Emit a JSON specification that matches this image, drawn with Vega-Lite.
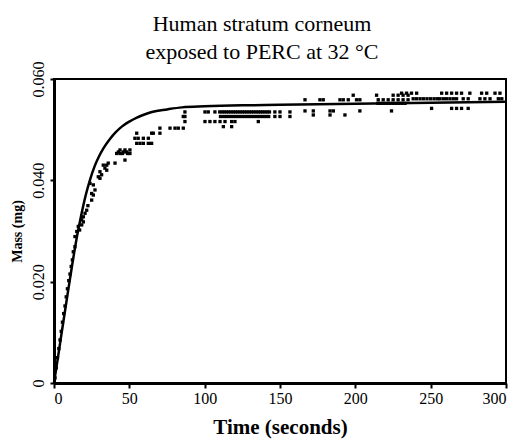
{
  "$schema": "https://vega.github.io/schema/vega-lite/v6.json",
  "width": 452,
  "height": 304,
  "autosize": "none",
  "padding": {"left": 54, "top": 79, "right": 11, "bottom": 61},
  "background": "white",
  "config": {
    "view": {"stroke": "black", "strokeWidth": 2},
    "font": "Liberation Serif",
    "axis": {"grid": false, "domainColor": "black", "tickColor": "black", "labelColor": "black", "titleColor": "black", "labelFont": "Liberation Serif", "titleFont": "Liberation Serif"}
  },
  "title": {
    "text": ["Human stratum corneum", "exposed to PERC at 32 °C"],
    "font": "Liberation Serif",
    "fontSize": 22,
    "fontWeight": "normal",
    "lineHeight": 28,
    "color": "black",
    "anchor": "middle",
    "dx": -18,
    "offset": 0,
    "dy": 3
  },
  "datasets": {
    "pts": [
      {"t": 0.7, "m": 0.0010}, {"t": 1.5, "m": 0.0030}, {"t": 2.3, "m": 0.0050}, {"t": 3.2, "m": 0.0068},
      {"t": 4.0, "m": 0.0085}, {"t": 4.8, "m": 0.0102}, {"t": 5.6, "m": 0.0120}, {"t": 6.4, "m": 0.0137},
      {"t": 7.3, "m": 0.0152}, {"t": 8.1, "m": 0.0170}, {"t": 8.9, "m": 0.0186}, {"t": 9.8, "m": 0.0202},
      {"t": 10.6, "m": 0.0215}, {"t": 11.4, "m": 0.0230}, {"t": 12.2, "m": 0.0243}, {"t": 12.8, "m": 0.0259},
      {"t": 13.9, "m": 0.0269}, {"t": 13.9, "m": 0.0289}, {"t": 15.1, "m": 0.0299}, {"t": 16.1, "m": 0.0309},
      {"t": 17.0, "m": 0.0302}, {"t": 18.4, "m": 0.0312}, {"t": 18.4, "m": 0.0322}, {"t": 19.5, "m": 0.0328},
      {"t": 19.5, "m": 0.0318}, {"t": 20.6, "m": 0.0335}, {"t": 21.7, "m": 0.0341}, {"t": 22.5, "m": 0.0350},
      {"t": 23.9, "m": 0.0394}, {"t": 25.0, "m": 0.0361}, {"t": 25.0, "m": 0.0374}, {"t": 26.1, "m": 0.0371},
      {"t": 26.1, "m": 0.0391}, {"t": 27.2, "m": 0.0381}, {"t": 29.4, "m": 0.0407}, {"t": 30.5, "m": 0.0404},
      {"t": 30.5, "m": 0.0417}, {"t": 31.6, "m": 0.0411}, {"t": 32.7, "m": 0.0430}, {"t": 33.8, "m": 0.0424},
      {"t": 35.0, "m": 0.0430}, {"t": 35.0, "m": 0.0420}, {"t": 36.0, "m": 0.0434}, {"t": 40.5, "m": 0.0434},
      {"t": 41.6, "m": 0.0453}, {"t": 42.7, "m": 0.0456}, {"t": 43.8, "m": 0.0453}, {"t": 43.8, "m": 0.0460},
      {"t": 45.5, "m": 0.0453}, {"t": 46.0, "m": 0.0456}, {"t": 47.1, "m": 0.0460}, {"t": 47.1, "m": 0.0440},
      {"t": 48.2, "m": 0.0456}, {"t": 48.8, "m": 0.0453}, {"t": 50.4, "m": 0.0453}, {"t": 50.4, "m": 0.0460},
      {"t": 53.7, "m": 0.0483}, {"t": 54.9, "m": 0.0493}, {"t": 54.9, "m": 0.0473}, {"t": 55.9, "m": 0.0483},
      {"t": 57.1, "m": 0.0473}, {"t": 59.3, "m": 0.0473}, {"t": 59.3, "m": 0.0483}, {"t": 62.6, "m": 0.0473},
      {"t": 62.6, "m": 0.0483}, {"t": 64.8, "m": 0.0473}, {"t": 64.8, "m": 0.0493}, {"t": 65.9, "m": 0.0493},
      {"t": 70.3, "m": 0.0493}, {"t": 70.3, "m": 0.0503}, {"t": 77.0, "m": 0.0503}, {"t": 80.3, "m": 0.0503},
      {"t": 82.5, "m": 0.0503}, {"t": 85.8, "m": 0.0503}, {"t": 86.9, "m": 0.0516}, {"t": 85.8, "m": 0.0526},
      {"t": 86.9, "m": 0.0526}, {"t": 86.9, "m": 0.0535},
      {"t": 100.2, "m": 0.0535}, {"t": 102.4, "m": 0.0535}, {"t": 106.8, "m": 0.0535}, {"t": 110.0, "m": 0.0535},
      {"t": 111.5, "m": 0.0535}, {"t": 113.0, "m": 0.0535}, {"t": 114.5, "m": 0.0535}, {"t": 116.0, "m": 0.0535},
      {"t": 117.5, "m": 0.0535}, {"t": 119.0, "m": 0.0535}, {"t": 120.5, "m": 0.0535}, {"t": 122.0, "m": 0.0535},
      {"t": 123.5, "m": 0.0535}, {"t": 125.0, "m": 0.0535}, {"t": 126.5, "m": 0.0535}, {"t": 128.0, "m": 0.0535},
      {"t": 129.5, "m": 0.0535}, {"t": 131.0, "m": 0.0535}, {"t": 132.5, "m": 0.0535}, {"t": 134.0, "m": 0.0535},
      {"t": 135.5, "m": 0.0535}, {"t": 137.0, "m": 0.0535}, {"t": 138.5, "m": 0.0535}, {"t": 140.0, "m": 0.0535},
      {"t": 141.5, "m": 0.0535}, {"t": 143.0, "m": 0.0535}, {"t": 146.6, "m": 0.0535}, {"t": 150.0, "m": 0.0535},
      {"t": 156.6, "m": 0.0535},
      {"t": 110.5, "m": 0.0526}, {"t": 112.5, "m": 0.0526}, {"t": 114.5, "m": 0.0526}, {"t": 116.5, "m": 0.0526},
      {"t": 118.5, "m": 0.0526}, {"t": 120.5, "m": 0.0526}, {"t": 122.5, "m": 0.0526}, {"t": 124.5, "m": 0.0526},
      {"t": 126.5, "m": 0.0526}, {"t": 128.5, "m": 0.0526}, {"t": 130.5, "m": 0.0526}, {"t": 132.5, "m": 0.0526},
      {"t": 134.5, "m": 0.0526}, {"t": 136.5, "m": 0.0526}, {"t": 138.5, "m": 0.0526}, {"t": 140.5, "m": 0.0526},
      {"t": 142.5, "m": 0.0526}, {"t": 146.6, "m": 0.0526}, {"t": 150.0, "m": 0.0526}, {"t": 156.6, "m": 0.0526},
      {"t": 100.2, "m": 0.0516}, {"t": 103.5, "m": 0.0516}, {"t": 106.8, "m": 0.0516}, {"t": 110.2, "m": 0.0516},
      {"t": 113.5, "m": 0.0516}, {"t": 117.9, "m": 0.0516}, {"t": 120.1, "m": 0.0516}, {"t": 135.6, "m": 0.0516},
      {"t": 112.4, "m": 0.0506}, {"t": 117.9, "m": 0.0506},
      {"t": 166.6, "m": 0.0559}, {"t": 166.6, "m": 0.0537}, {"t": 176.5, "m": 0.0559}, {"t": 178.7, "m": 0.0559},
      {"t": 189.8, "m": 0.0559}, {"t": 192.0, "m": 0.0559}, {"t": 195.3, "m": 0.0559}, {"t": 200.8, "m": 0.0559},
      {"t": 203.0, "m": 0.0559}, {"t": 215.2, "m": 0.0559}, {"t": 218.5, "m": 0.0559}, {"t": 221.8, "m": 0.0559},
      {"t": 225.1, "m": 0.0559}, {"t": 228.4, "m": 0.0559}, {"t": 231.7, "m": 0.0559}, {"t": 235.0, "m": 0.0559},
      {"t": 198.6, "m": 0.0568}, {"t": 214.1, "m": 0.0568}, {"t": 225.1, "m": 0.0568}, {"t": 228.4, "m": 0.0568},
      {"t": 231.7, "m": 0.0568}, {"t": 235.0, "m": 0.0568},
      {"t": 215.0, "m": 0.0552}, {"t": 217.0, "m": 0.0552}, {"t": 219.0, "m": 0.0552}, {"t": 221.0, "m": 0.0552},
      {"t": 223.0, "m": 0.0552}, {"t": 225.0, "m": 0.0552}, {"t": 227.0, "m": 0.0552}, {"t": 229.0, "m": 0.0552},
      {"t": 231.0, "m": 0.0552}, {"t": 233.0, "m": 0.0552},
      {"t": 172.1, "m": 0.0537}, {"t": 183.2, "m": 0.0537}, {"t": 185.4, "m": 0.0537}, {"t": 203.0, "m": 0.0537},
      {"t": 224.0, "m": 0.0537},
      {"t": 172.1, "m": 0.0529}, {"t": 183.2, "m": 0.0529}, {"t": 193.1, "m": 0.0529},
      {"t": 230.7, "m": 0.0572}, {"t": 234.0, "m": 0.0572}, {"t": 237.3, "m": 0.0572}, {"t": 240.7, "m": 0.0572},
      {"t": 257.3, "m": 0.0572}, {"t": 260.6, "m": 0.0572}, {"t": 263.9, "m": 0.0572}, {"t": 267.2, "m": 0.0572},
      {"t": 270.5, "m": 0.0572}, {"t": 276.0, "m": 0.0572}, {"t": 283.8, "m": 0.0572}, {"t": 287.2, "m": 0.0572},
      {"t": 292.7, "m": 0.0572}, {"t": 296.0, "m": 0.0572},
      {"t": 238.4, "m": 0.0561}, {"t": 240.7, "m": 0.0561}, {"t": 243.0, "m": 0.0561}, {"t": 245.3, "m": 0.0561},
      {"t": 247.6, "m": 0.0561}, {"t": 250.0, "m": 0.0561}, {"t": 252.3, "m": 0.0561}, {"t": 254.5, "m": 0.0561},
      {"t": 256.2, "m": 0.0561}, {"t": 258.4, "m": 0.0561}, {"t": 260.6, "m": 0.0561}, {"t": 262.8, "m": 0.0561},
      {"t": 265.0, "m": 0.0561}, {"t": 267.2, "m": 0.0561}, {"t": 271.6, "m": 0.0561}, {"t": 274.9, "m": 0.0561},
      {"t": 282.7, "m": 0.0561}, {"t": 286.0, "m": 0.0561}, {"t": 289.4, "m": 0.0561}, {"t": 294.9, "m": 0.0561},
      {"t": 297.2, "m": 0.0561},
      {"t": 250.6, "m": 0.0542}, {"t": 263.9, "m": 0.0542}, {"t": 267.2, "m": 0.0542}, {"t": 270.5, "m": 0.0542},
      {"t": 274.9, "m": 0.0542}
    ],
    "fit": [
      {"t": 0, "m": 0}, {"t": 3, "m": 0.0058}, {"t": 6, "m": 0.0117}, {"t": 9, "m": 0.0175},
      {"t": 12, "m": 0.0232}, {"t": 15, "m": 0.0285}, {"t": 18, "m": 0.0330}, {"t": 21, "m": 0.0370},
      {"t": 24, "m": 0.0402}, {"t": 27, "m": 0.0428}, {"t": 30, "m": 0.0448}, {"t": 33, "m": 0.0464},
      {"t": 37, "m": 0.0481}, {"t": 41, "m": 0.0495}, {"t": 45, "m": 0.0506}, {"t": 50, "m": 0.0516},
      {"t": 55, "m": 0.0524}, {"t": 60, "m": 0.0530}, {"t": 65, "m": 0.0535}, {"t": 75, "m": 0.0540},
      {"t": 85, "m": 0.0544}, {"t": 100, "m": 0.0546}, {"t": 125, "m": 0.0548}, {"t": 150, "m": 0.0549},
      {"t": 200, "m": 0.0551}, {"t": 250, "m": 0.0553}, {"t": 300, "m": 0.0555}
    ]
  },
  "encoding": {
    "x": {
      "field": "t", "type": "quantitative",
      "scale": {"domain": [0, 300], "nice": false, "zero": true},
      "axis": {
        "title": "Time (seconds)", "titleFontSize": 21, "titleFontWeight": "bold", "titlePadding": 10,
        "values": [0, 50, 100, 150, 200, 250, 300], "format": "d",
        "labelFontSize": 16, "labelPadding": 2, "tickSize": 5, "tickWidth": 2, "domainWidth": 3
      }
    },
    "y": {
      "field": "m", "type": "quantitative",
      "scale": {"domain": [0, 0.06], "nice": false},
      "axis": {
        "title": "Mass (mg)", "titleFontSize": 14, "titleFontWeight": "bold", "titlePadding": 6,
        "values": [0, 0.02, 0.04, 0.06],
        "labelExpr": "datum.value == 0 ? '0' : format(datum.value, '.3f')",
        "labelAngle": -90, "labelAlign": "center", "labelBaseline": "bottom",
        "labelFontSize": 16, "labelPadding": 4, "tickSize": 4, "tickWidth": 2, "domainWidth": 3
      }
    }
  },
  "layer": [
    {
      "data": {"name": "fit"},
      "mark": {"type": "line", "color": "black", "strokeWidth": 2.5, "interpolate": "monotone"}
    },
    {
      "data": {"name": "pts"},
      "mark": {"type": "point", "shape": "square", "filled": true, "size": 11, "color": "black", "opacity": 1}
    }
  ]
}
